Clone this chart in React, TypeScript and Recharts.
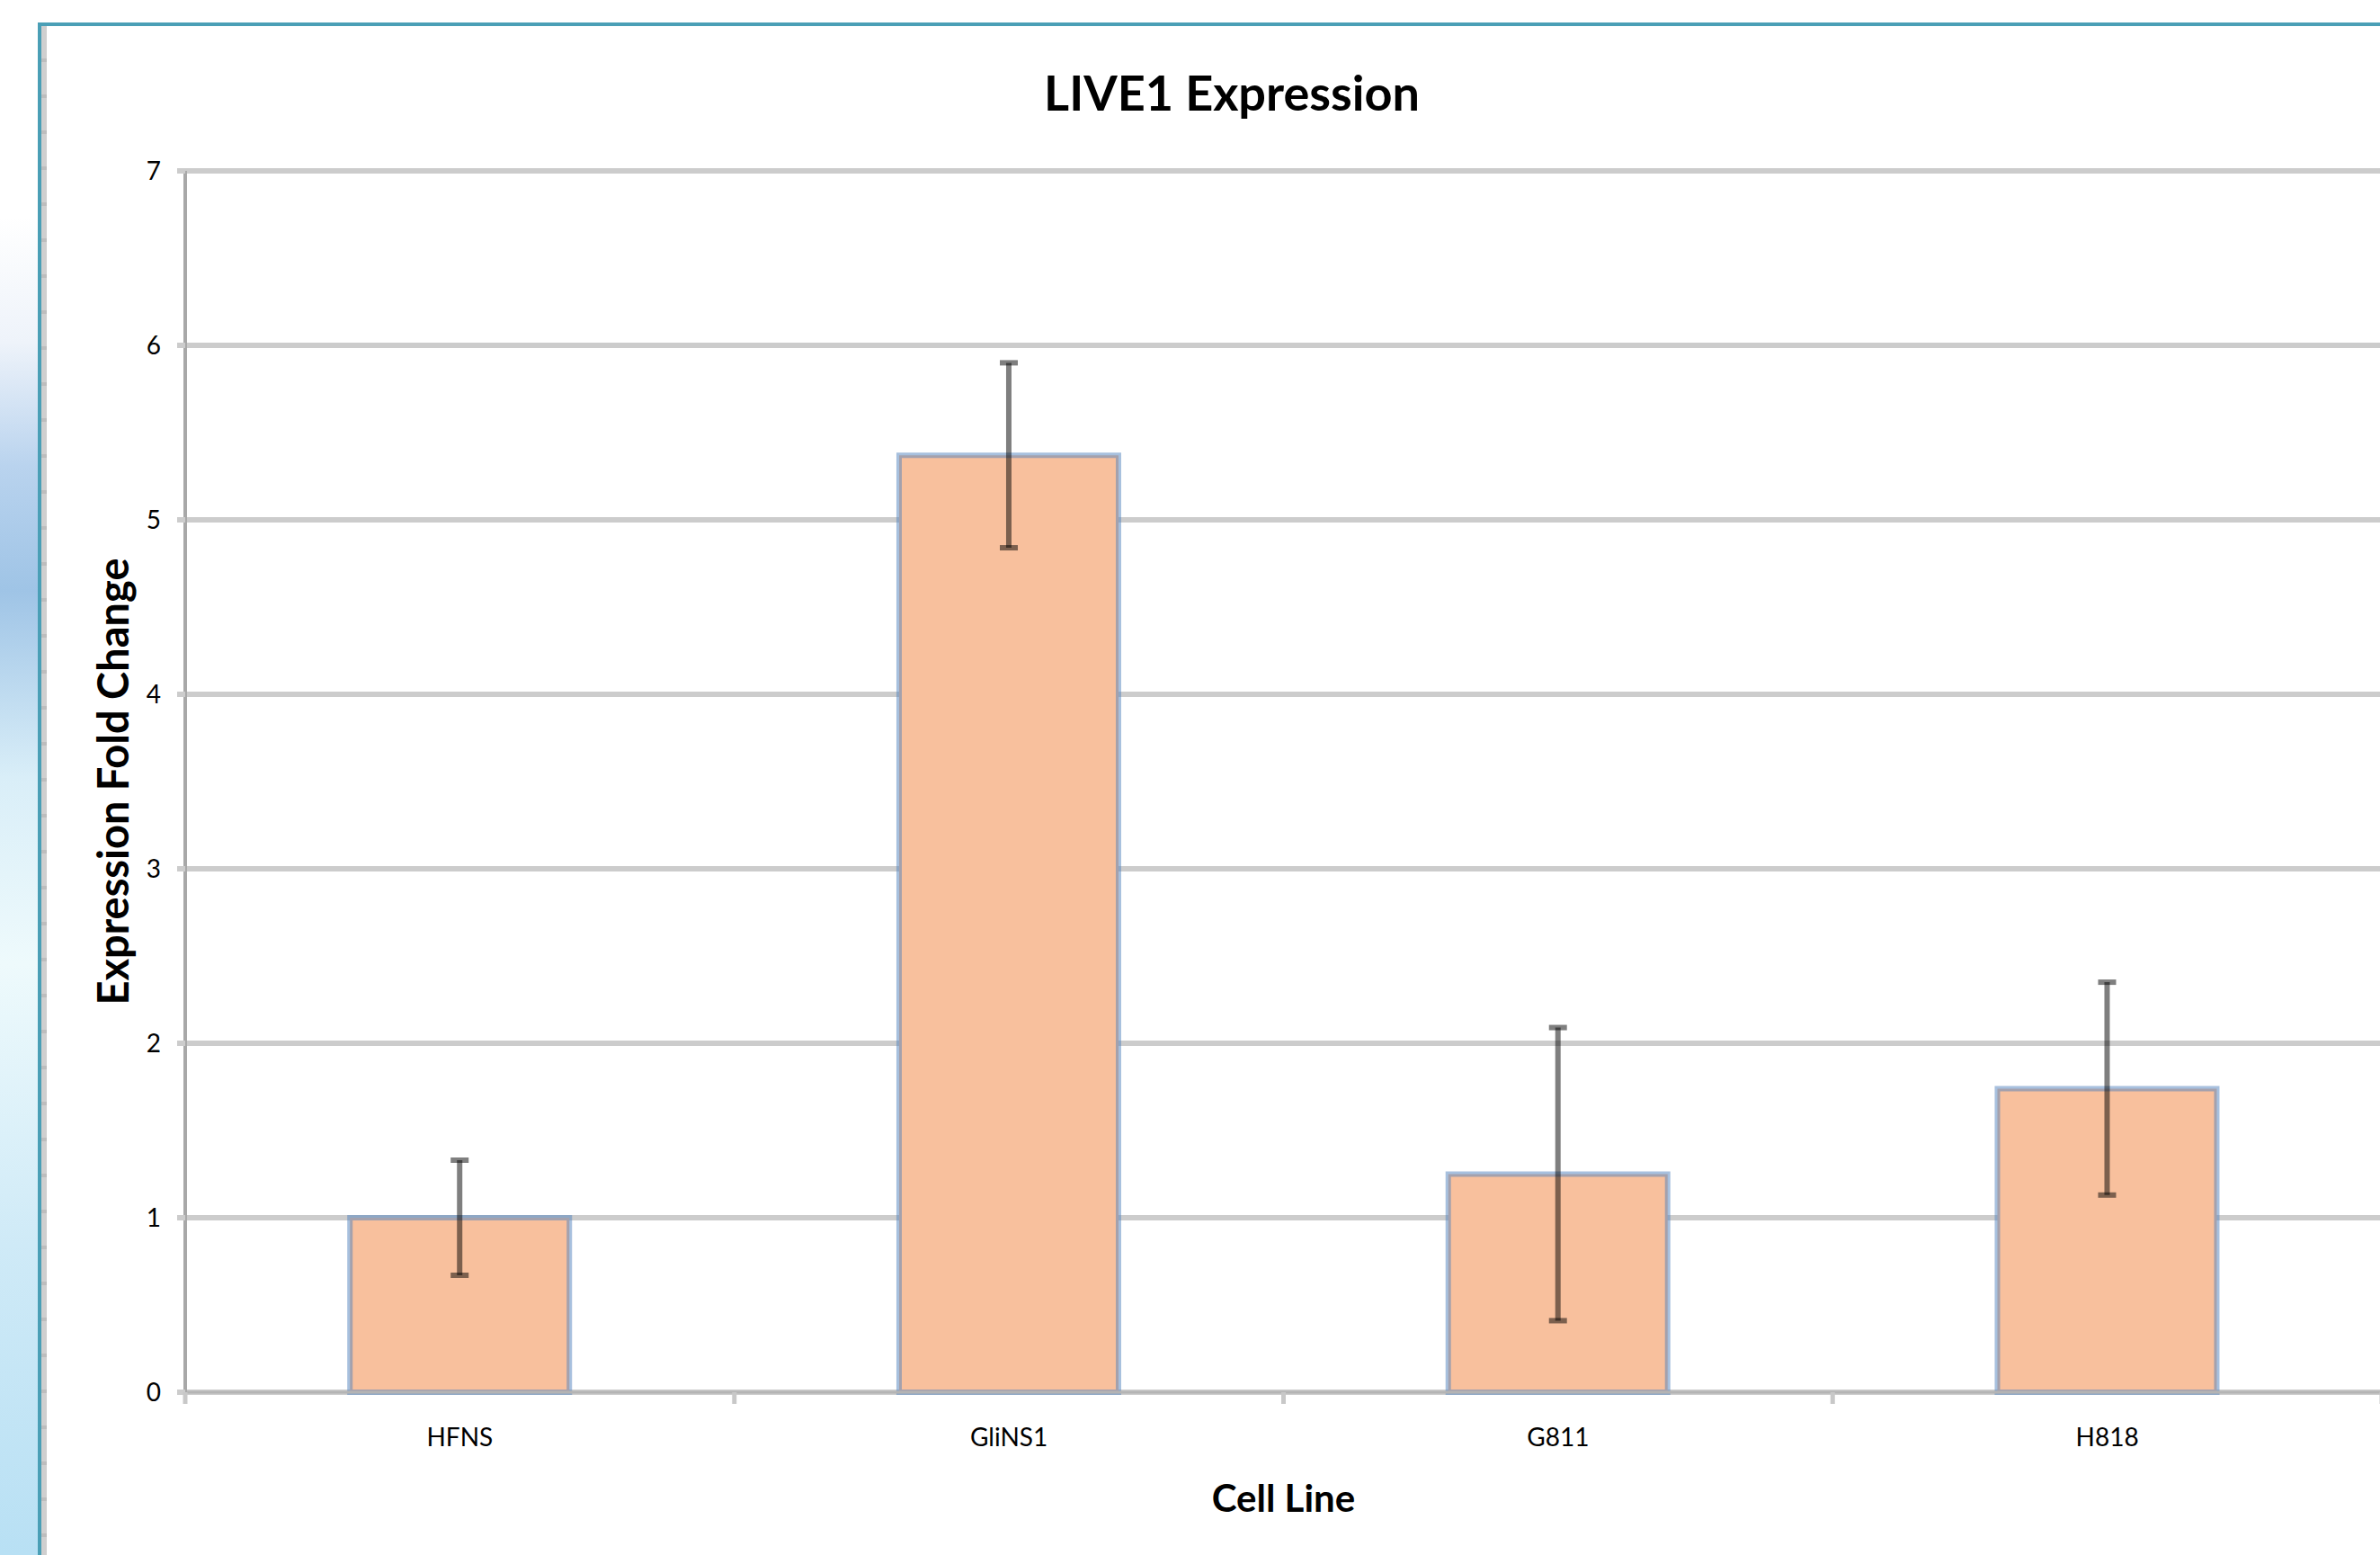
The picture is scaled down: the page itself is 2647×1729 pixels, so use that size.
import React from "react";
import {
  BarChart,
  Bar,
  XAxis,
  YAxis,
  CartesianGrid,
  ErrorBar,
} from "recharts";

const cellLines = ["HFNS", "GliNS1", "G811", "H818"];
const foldChange = [1.0, 5.37, 1.25, 1.74];
const foldError = [0.33, 0.53, 0.84, 0.61];
const yTicks = [0, 1, 2, 3, 4, 5, 6, 7];

const chartData = cellLines.map((name, i) => ({
  name,
  value: foldChange[i],
  err: foldError[i],
}));

const W = 2647;
const H = 1729;
const font = "Lato, 'Open Sans', sans-serif";
const labelGap = 40;

// category label plus the small tick marks Excel draws between categories
const CategoryTick = (props: any) => {
  const { x, y, payload, index, visibleTicksCount } = props;
  const half = payload?.offset;
  const axisY = y - labelGap;
  const marks: number[] = [];
  if (typeof half === "number" && half > 0) {
    marks.push(x - half);
    if (index === visibleTicksCount - 1) marks.push(x + half);
  }
  return (
    <g>
      {marks.map((mx) => (
        <line
          key={mx}
          x1={mx}
          x2={mx}
          y1={axisY}
          y2={axisY + 13}
          stroke="#c8c8c8"
          strokeWidth={5}
        />
      ))}
      <text
        x={x}
        y={y}
        dy="0.71em"
        textAnchor="middle"
        fill="#000"
        fontSize={28}
        fontFamily={font}
      >
        {payload.value}
      </text>
    </g>
  );
};

const App = () => {
  return (
    <div
      style={{
        position: "absolute",
        left: 0,
        top: 0,
        width: W,
        height: H,
        overflow: "hidden",
        background: "#ffffff",
        fontFamily: font,
      }}
    >
      {/* blurred desktop strip on the far left */}
      <div
        style={{
          position: "absolute",
          left: 0,
          top: 0,
          width: 42,
          height: H,
          background:
            "linear-gradient(to bottom, #ffffff 0%, #ffffff 14%, #eef3fa 22%, #b9d3ee 30%, #9fc4e6 38%, #d9eef8 50%, #eefafc 62%, #cfeaf7 80%, #b8e0f4 100%)",
        }}
      />
      {/* window frame */}
      <div
        style={{
          position: "absolute",
          left: 42,
          top: 25,
          width: W,
          height: H,
          borderLeft: "4px solid #4a9fb6",
          borderTop: "4px solid #4a9fb6",
          boxSizing: "border-box",
        }}
      >
        <div
          style={{
            position: "absolute",
            left: 0,
            top: 0,
            width: 6,
            height: "100%",
            background:
              "repeating-linear-gradient(to bottom, #cfcfcf 0px, #cfcfcf 36px, #bdbdbd 36px, #bdbdbd 40px)",
          }}
        />
      </div>

      <div
        style={{
          position: "absolute",
          left: 0,
          top: 76,
          width: 2740,
          textAlign: "center",
          fontFamily: font,
          fontWeight: 700,
          fontSize: 54,
          lineHeight: "54px",
          color: "#000",
        }}
      >
        LIVE1 Expression
      </div>

      <div style={{ position: "absolute", left: 0, top: 0 }}>
        <BarChart
          width={W + 5}
          height={H}
          data={chartData}
          margin={{ top: 190, right: 3, left: 0, bottom: 1 }}
          barCategoryGap="30%"
        >
          <CartesianGrid vertical={false} stroke="#cccccc" strokeWidth={6} />
          <XAxis
            dataKey="name"
            height={180}
            tickLine={false}
            tickSize={0}
            tickMargin={labelGap}
            interval={0}
            axisLine={{ stroke: "#b4b4b4", strokeWidth: 3 }}
            tick={<CategoryTick />}
            label={{
              value: "Cell Line",
              position: "insideBottom",
              offset: 47,
              fill: "#000",
              fontSize: 42,
              fontWeight: 700,
              fontFamily: font,
            }}
          />
          <YAxis
            width={206}
            domain={[0, 7]}
            ticks={yTicks}
            interval={0}
            tickSize={9}
            tickMargin={18}
            axisLine={{ stroke: "#a8a8a8", strokeWidth: 4 }}
            tickLine={{ stroke: "#cccccc", strokeWidth: 6 }}
            tick={{ fill: "#000", fontSize: 28, fontFamily: font }}
            label={{
              value: "Expression Fold Change",
              angle: -90,
              position: "insideLeft",
              offset: 126,
              style: { textAnchor: "middle" },
              fill: "#000",
              fontSize: 47,
              fontWeight: 700,
              fontFamily: font,
            }}
          />
          <Bar
            dataKey="value"
            fill="#f8c09d"
            stroke="#4f81bd"
            strokeOpacity={0.5}
            strokeWidth={6}
            isAnimationActive={false}
          >
            <ErrorBar
              dataKey="err"
              direction="y"
              width={10}
              stroke="#000"
              strokeOpacity={0.5}
              strokeWidth={6}
            />
          </Bar>
        </BarChart>
      </div>
    </div>
  );
};

export default App;
